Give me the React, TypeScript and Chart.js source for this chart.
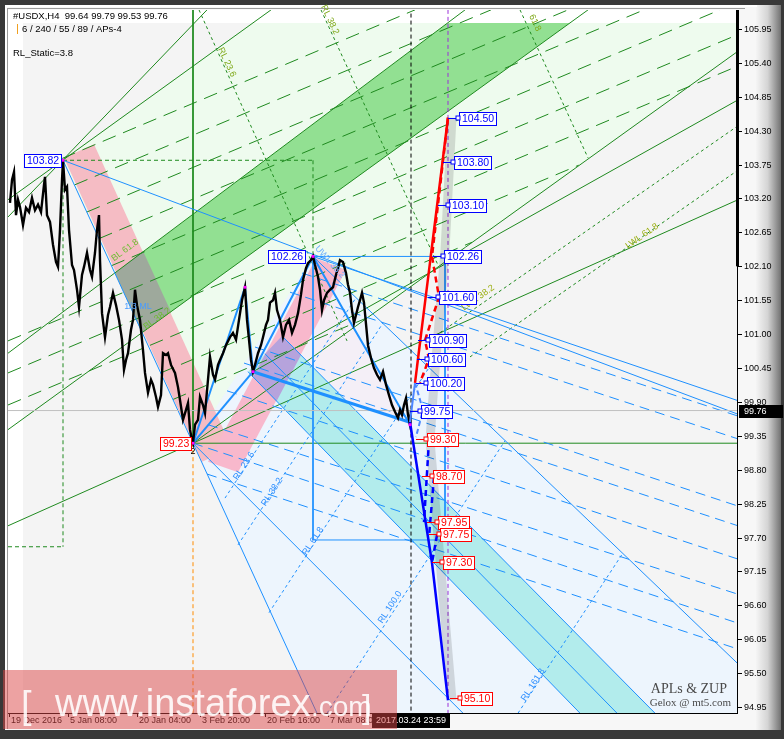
import { useEffect, useRef } from 'react';
import { Chart, registerables } from 'chart.js';

Chart.register(...registerables);

type P2 = [number, number];

// ---------------- axes ----------------
const xMin = -1;
const xMax = 729;
const yMin = 94.853;
const yMax = 106.258;
const yTicks = [94.95, 95.5, 96.05, 96.6, 97.15, 97.7, 98.25, 98.8, 99.35, 99.9, 100.45, 101.0, 101.55, 102.1, 102.65, 103.2, 103.75, 104.3, 104.85, 105.4, 105.95];
const xTickBars = [0, 59, 128, 191, 256, 319];
const xTickLabels = ['19 Dec 2016', '5 Jan 08:00', '20 Jan 04:00', '3 Feb 20:00', '20 Feb 16:00', '7 Mar 08:00'];
const lastBar = 402;
const lastTime = '2017.03.24 23:59';
const lastPrice = 99.76;
const axisBarTop = 102.1;

const header1 = '#USDX,H4  99.64 99.79 99.53 99.76';
const header2 = '6 / 240 / 55 / 89 / APs-4';
const header3 = 'RL_Static=3.8';

// ---------------- price (H4 closes, sampled) ----------------
const priceBars = [1,3,5,7,9,11,14,17,20,23,26,29,32,35,36,38,41,44,47,49,51,53,54,56,58,60,63,65,68,70,73,75,78,81,83,86,88,90,91,93,96,99,101,104,107,110,113,115,117,119,122,124,126,128,131,134,136,139,142,144,147,149,152,154,157,159,162,166,169,171,174,177,179,181,183,184,186,189,191,194,196,199,201,204,206,209,211,214,217,221,224,227,230,233,236,238,240,242,244,246,249,252,254,257,259,261,264,266,268,271,274,277,280,283,286,289,292,294,297,299,302,304,306,309,311,313,315,318,321,324,327,329,331,334,337,339,341,343,345,347,349,351,353,355,359,362,365,368,371,374,377,380,383,386,389,391,393,395,397,399,401,402];
const priceValues = [103.13,103.5,103.63,102.93,103.18,103.06,102.77,103.05,102.98,103.21,103.01,103.1,102.98,103.42,103.55,102.93,102.82,102.45,102.17,102.09,102.69,103.5,103.82,103.34,103.39,102.69,102.12,102.04,101.72,101.44,101.96,102.09,102.32,102.04,101.93,102.32,102.69,102.93,102.2,101.34,100.95,101.31,101.44,101.67,101.47,101.23,100.91,100.42,100.58,100.69,101.07,101.23,101.72,101.47,101.23,100.74,100.37,100.05,100.26,100.18,99.98,99.82,100.01,100.69,100.66,100.69,100.5,100.37,100.14,99.93,99.61,99.77,99.88,99.45,99.28,99.23,99.53,99.61,99.98,99.85,99.72,100.26,100.63,100.34,100.26,100.5,100.58,100.69,100.82,100.95,101.02,100.91,101.23,101.55,101.76,101.23,100.91,100.58,100.39,100.5,100.69,100.82,100.95,101.15,101.23,101.51,101.55,101.67,101.39,101.23,100.95,101.15,101.23,101.02,101.15,101.34,101.64,101.88,102.07,102.15,102.2,102.26,102.12,101.93,101.72,101.39,101.55,101.67,101.72,101.76,101.96,102.07,102.2,102.17,101.99,101.8,101.67,101.39,101.18,101.31,101.44,101.55,101.67,101.51,100.82,100.61,100.45,100.34,100.26,100.39,100.18,100.01,99.85,99.74,99.64,99.77,99.69,99.85,99.96,99.69,99.53,99.76];

// ---------------- swing points ----------------
const swingBars = [54, 184, 236, 244, 304, 401];
const swingPrices = [103.82, 99.23, 101.76, 100.39, 102.26, 99.53];
const pivotBars = [54, 304, 184];
const pivotPrices = [103.82, 102.26, 99.23];
const pivotGaps = [2, 8, 2];
const pivotColors = ['#0000ff', '#0000ff', '#ff0000'];

// ---------------- projection targets ----------------
const targetPrices = [104.5, 103.8, 103.1, 102.26, 101.6, 100.9, 100.6, 100.2, 99.75, 99.3, 98.7, 97.95, 97.75, 97.3, 95.1];
const targetBars = [448, 443, 438, 433, 428, 418, 417, 416, 410, 416, 422, 427, 429, 432, 450];
const targetColors = ['#0000ff','#0000ff','#0000ff','#0000ff','#0000ff','#0000ff','#0000ff','#0000ff','#0000ff','#ff0000','#ff0000','#ff0000','#ff0000','#ff0000','#ff0000'];

// ---------------- filled zones ----------------
const greenZone: P2[] = [[54,103.82],[184,99.23],[729,105.6],[729,106.05],[244,106.05]];
const blueZone: P2[] = [[184,99.23],[304,102.26],[729,95.65],[729,94.85],[306,94.85]];
const lavenderZone: P2[] = [[304,102.26],[344,101.12],[401,99.53],[277.5,100.22]];
const greenBand: P2[] = [[106,101.99],[133,101.02],[561,106.05],[439,106.05]];
const cyanBand: P2[] = [[239,100.39],[273,100.97],[646,94.85],[571,94.85]];
const pinkBand1: P2[] = [[55,103.86],[85,104.08],[223,99.15],[193,98.93]];
const bandOverlap: P2[] = [[106,101.99],[133,101.02],[162,101.36],[134,102.35]];
const pinkBand2: P2[] = [[199,98.93],[307,102.23],[337,102.04],[229,98.76]];
const purpleOverlap: P2[] = [[256.6,100.69],[273,100.97],[292,100.66],[267.5,99.91],[244,100.3]];

// ---------------- lines ----------------
const greenSolid: P2[][] = [
  [[-1,102.9],[198,106.26]],
  [[-1,103.18],[262,106.26]],
  [[184,99.23],[729,105.59]],
  [[-1,97.89],[729,103.18]],
  [[-1,100.69],[456,106.26]],
  [[-1,99.45],[579,106.26]],
  [[244,100.39],[729,104.8]],
  [[184,106.26],[184,99.23]],
  [[184,99.23],[729,99.23]],
];
const greenBox: P2[][] = [
  [[54,103.82],[54,97.55]],
  [[-1,97.55],[54,97.55]],
  [[54,103.82],[304,103.82]],
  [[304,103.82],[304,102.26]],
];
const greenDash: P2[][] = [
  [[53.2,103.85],[406,106.26]],
  [[65.5,103.42],[482,106.26]],
  [[77.8,102.98],[559,106.26]],
  [[90.1,102.55],[635,106.26]],
  [[102.5,102.11],[711,106.26]],
  [[-1,100.89],[729,105.86]],
  [[-1,100.37],[729,105.35]],
  [[-1,99.85],[569.7,103.74]],
  [[151.7,100.37],[463,102.49]],
  [[164,99.94],[356,101.25]],
];
const greenDot: P2[][] = [
  [[190,106.26],[338,100.89]],
  [[312,106.26],[429,102.12]],
  [[511,106.26],[579,103.86]],
  [[421,100.91],[729,104.38]],
  [[461,100.63],[729,103.66]],
];
const blueSolid: P2[][] = [
  [[54,103.82],[729,99.7]],
  [[54,103.82],[308,94.85]],
  [[304,102.26],[729,95.65]],
  [[304,102.26],[729,99.92]],
  [[304,102.26],[433,102.26]],
  [[304,102.26],[304,97.66]],
  [[304,97.66],[436,97.66]],
  [[436,102.26],[436,97.66]],
  [[273,100.97],[646,94.85]],
  [[239,100.39],[571,94.85]],
  [[256,100.68],[608,94.85]],
  [[184,99.23],[454,94.85]],
];
const blueDash: P2[][] = [
  [[293,101.99],[729,99.67]],
  [[281,101.68],[729,99.3]],
  [[246,100.79],[729,98.21]],
  [[235,100.53],[729,97.89]],
  [[218,100.08],[729,97.35]],
  [[199,99.53],[729,96.78]],
  [[184,99.23],[729,96.31]],
  [[198,98.73],[729,95.89]],
];
const blueDot: P2[][] = [
  [[216,98.34],[347,101.59]],
  [[229,97.58],[374,101.18]],
  [[260,96.48],[421,100.48]],
  [[318,94.85],[496,99.27]],
  [[509,94.85],[614,97.45]],
];
const zupPath: P2[] = [[184,99.23],[236,101.76],[244,100.39],[304,102.26],[344,101.12],[401,99.53]];
const zupExtra: P2[] = [[184,99.23],[244,100.39]];
const medianThick: P2[] = [[244,100.39],[401,99.57]];
const redSolid: P2[] = [[406,100.21],[439,104.51]];
const redDash: P2[] = [[439,104.51],[423,102.26],[430,101.6],[416,100.9],[420,100.6],[411,100.21]];
const blueProjSolid: P2[] = [[401,99.57],[423,97.29],[439,95.06]];
const blueProjDash: P2[][] = [
  [[420,99.28],[415,97.95]],
  [[425,98.68],[420,97.71]],
  [[428,97.74],[423,97.29]],
];
const lightProjSolid: P2[] = [[401,99.57],[406,100.21]];
const lightProjDash: P2[] = [[406,100.21],[414,99.77],[407,99.33]];
const projShadow: P2[] = [[443,104.51],[436,102.36],[425,100.21],[421,99.28],[431,97.34],[443,95.06]];

// ---------------- annotations ----------------
const annoTexts = ['RL 23.6','RL 38.2','61.8','BL 61.8','BL 38.2','LWL 38.2','LWL 61.8','1/3 ML','UWL 38.2','RL 23.6','RL 38.2','RL 61.8','RL 100.0','RL 161.8','2'];
const annoBars = [218,321,526,116,148,469,633,129,321,235,263,304,381,524,184];
const annoPrices = [105.41,106.1,106.05,102.36,101.25,101.59,102.59,101.44,102.17,98.86,98.44,97.64,96.57,95.31,99.09];
const annoAngles = [65,65,65,-36,-36,-35,-35,0,48,-57,-57,-57,-57,-57,0];
const annoColors = ['#7fa818','#7fa818','#7fa818','#6cbc30','#6cbc30','#9aae10','#9aae10','#4a9cff','#6aaeff','#2f8fff','#2f8fff','#2f8fff','#2f8fff','#2f8fff','#000000'];

const FONT = '"Liberation Sans", Arial, sans-serif';

function boxLabel(ctx: CanvasRenderingContext2D, text: string, x: number, y: number, color: string, alignRight: boolean) {
  ctx.font = `10.5px ${FONT}`;
  const w = Math.round(ctx.measureText(text).width + 5);
  const h = 13;
  const bx = Math.round(alignRight ? x - w : x);
  const by = Math.round(y - h / 2);
  ctx.fillStyle = '#ffffff';
  ctx.fillRect(bx, by, w, h);
  ctx.strokeStyle = color;
  ctx.lineWidth = 1;
  ctx.strokeRect(bx + 0.5, by + 0.5, w, h);
  ctx.fillStyle = color;
  ctx.textAlign = 'left';
  ctx.textBaseline = 'middle';
  ctx.fillText(text, bx + 3, by + h / 2 + 1);
}

const bgPlugin = {
  id: 'bgFrame',
  beforeDraw(chart: any) {
    const { ctx, chartArea: a, width, height } = chart;
    ctx.save();
    ctx.fillStyle = '#f7f7f7';
    ctx.fillRect(0, 0, width, height);
    const g = ctx.createLinearGradient(756, 0, 782, 0);
    g.addColorStop(0, '#f5f5f5');
    g.addColorStop(0.45, '#d4d4d4');
    g.addColorStop(1, '#6a6a6a');
    ctx.fillStyle = g;
    ctx.fillRect(756, 0, 28, height);
    ctx.fillStyle = '#383838';
    ctx.fillRect(0, 0, width, 5);
    ctx.fillRect(0, 0, 5, height);
    ctx.fillRect(0, height - 9, width, 9);
    ctx.fillRect(width - 3, 0, 3, height);
    ctx.fillStyle = '#ffffff';
    ctx.fillRect(5, 5, 752, 2);
    ctx.fillRect(5, 5, 2, height - 14);
    ctx.fillStyle = '#9a9a9a';
    ctx.fillRect(7, 8, 738, 1);
    ctx.fillRect(7, 8, 1, height - 18);
    ctx.fillStyle = '#ffffff';
    ctx.fillRect(a.left, a.top, a.right - a.left, a.bottom - a.top);
    ctx.fillStyle = '#f4f4f4';
    ctx.fillRect(a.left + 15, a.top + 13, a.right - a.left - 15, a.bottom - a.top - 13);
    ctx.restore();
  },
};

const polyPlugin = {
  id: 'polyFill',
  beforeDatasetDraw(chart: any, args: any) {
    const ds = chart.data.datasets[args.index];
    if (!ds.polyFill) return;
    const { ctx, chartArea: a } = chart;
    const pts = args.meta.data;
    ctx.save();
    ctx.beginPath();
    ctx.rect(a.left + 15, a.top + 13, a.right - a.left - 15, a.bottom - a.top - 13);
    ctx.clip();
    ctx.beginPath();
    pts.forEach((p: any, i: number) => (i ? ctx.lineTo(p.x, p.y) : ctx.moveTo(p.x, p.y)));
    ctx.closePath();
    ctx.fillStyle = ds.polyFill;
    ctx.fill();
    ctx.restore();
  },
};

const textPlugin = {
  id: 'texts',
  afterDraw(chart: any) {
    const { ctx, chartArea: a } = chart;
    const xs = chart.scales.x;
    const ys = chart.scales.y;
    const X = (b: number) => xs.getPixelForValue(b);
    const Y = (p: number) => ys.getPixelForValue(p);
    ctx.save();

    annoTexts.forEach((t, i) => {
      ctx.save();
      ctx.translate(X(annoBars[i]), Y(annoPrices[i]));
      ctx.rotate((annoAngles[i] * Math.PI) / 180);
      ctx.font = `9px ${FONT}`;
      ctx.fillStyle = annoColors[i];
      ctx.textAlign = 'center';
      ctx.textBaseline = 'middle';
      ctx.fillText(t, 0, 0);
      ctx.restore();
    });

    pivotBars.forEach((b, i) => {
      boxLabel(ctx, pivotPrices[i].toFixed(2), X(b) - pivotGaps[i], Y(pivotPrices[i]), pivotColors[i], true);
    });

    targetBars.forEach((b, i) => {
      const y = Math.round(Y(targetPrices[i])) + 0.5;
      const xm = Math.round(X(b));
      ctx.strokeStyle = targetColors[i];
      ctx.lineWidth = 1;
      ctx.beginPath();
      ctx.moveTo(X(b - 9), y);
      ctx.lineTo(xm, y);
      ctx.stroke();
      boxLabel(ctx, targetPrices[i].toFixed(2), xm + 2, y, targetColors[i], false);
      ctx.fillStyle = '#ffffff';
      ctx.fillRect(xm - 1, y - 2.5, 4, 4);
      ctx.strokeStyle = targetColors[i];
      ctx.strokeRect(xm - 1, y - 2.5, 4, 4);
    });

    ctx.fillStyle = '#000000';
    ctx.font = `9.5px ${FONT}`;
    ctx.textAlign = 'left';
    ctx.textBaseline = 'middle';
    ctx.fillText(header1, 13, 16);
    ctx.fillText(header2, 22, 29);
    ctx.fillText(header3, 13, 53);
    ctx.fillStyle = '#f0a020';
    ctx.fillRect(17, 24, 1, 10);

    ctx.fillStyle = '#4a4a4a';
    ctx.textAlign = 'right';
    ctx.textBaseline = 'alphabetic';
    ctx.font = `14px "Liberation Serif", "DejaVu Serif", serif`;
    ctx.fillText('APLs & ZUP', 727, 693);
    ctx.font = `11px "Liberation Serif", "DejaVu Serif", serif`;
    ctx.fillText('Gelox @ mt5.com', 731, 706);

    ctx.fillStyle = '#000000';
    ctx.fillRect(a.right - 1, a.top, 1, a.bottom - a.top + 1);
    ctx.fillRect(a.right - 2, a.top, 3, Y(axisBarTop) - a.top);
    ctx.font = `9px ${FONT}`;
    ctx.textAlign = 'left';
    ctx.textBaseline = 'middle';
    yTicks.forEach((v) => {
      const y = Math.round(Y(v));
      ctx.fillRect(a.right, y, 4, 1);
      ctx.fillText(v.toFixed(2), a.right + 6, y + 0.5);
    });
    ctx.fillRect(a.left, a.bottom, a.right - a.left, 1);
    xTickBars.forEach((b, i) => {
      const x = Math.round(X(b));
      ctx.fillRect(x, a.bottom, 1, 4);
      ctx.fillText(xTickLabels[i], x + 2, a.bottom + 8);
    });
    const py = Y(lastPrice);
    ctx.fillRect(a.right + 1, Math.round(py) - 6, 44, 13);
    ctx.fillStyle = '#ffffff';
    ctx.fillText(lastPrice.toFixed(2), a.right + 6, Math.round(py) + 1);
    ctx.fillStyle = '#000000';
    const tw = ctx.measureText(lastTime).width + 8;
    const tx = X(lastBar);
    ctx.fillRect(Math.round(tx - tw / 2), a.bottom + 1, Math.round(tw), 14);
    ctx.fillStyle = '#ffffff';
    ctx.textAlign = 'center';
    ctx.fillText(lastTime, tx, a.bottom + 8);

    ctx.fillStyle = 'rgba(220,70,70,0.5)';
    ctx.fillRect(3, 670, 394, 59);
    ctx.fillStyle = 'rgba(255,255,255,0.88)';
    ctx.textAlign = 'left';
    ctx.textBaseline = 'alphabetic';
    ctx.font = `38px ${FONT}`;
    ctx.fillText('[', 21, 718);
    ctx.fillText('www.instaforex', 55, 716);
    ctx.font = `28px ${FONT}`;
    ctx.fillText('.com', 311, 716);
    ctx.font = `34px ${FONT}`;
    ctx.fillText(']', 362, 718);
    ctx.restore();
  },
};

export default function App() {
  const ref = useRef<HTMLCanvasElement | null>(null);
  useEffect(() => {
    const canvas = ref.current;
    if (!canvas) return;
    const layers: any[] = [];
    const xy = (pts: P2[]) => pts.map(([x, y]) => ({ x, y }));
    const poly = (pts: P2[], color: string) =>
      layers.push({ data: xy(pts), showLine: false, pointRadius: 0, polyFill: color, borderColor: 'rgba(0,0,0,0)', fill: false });
    const line = (pts: P2[], color: string, width: number, dash: number[] = []) =>
      layers.push({ data: xy(pts), borderColor: color, borderWidth: width, borderDash: dash, pointRadius: 0, fill: false, tension: 0, borderCapStyle: 'butt' });

    poly(greenZone, '#eefbee');
    poly(blueZone, '#edf5fd');
    poly(lavenderZone, '#f4eff7');
    poly(greenBand, '#92e092');
    poly(cyanBand, '#b2ecec');
    poly(pinkBand1, '#f5bcc4');
    poly(bandOverlap, '#9ea99c');
    poly(pinkBand2, '#f8b8cc');
    poly(purpleOverlap, '#b6a3dc');

    greenDash.forEach((s) => line(s, '#1f8a1f', 1, [14, 8]));
    greenBox.forEach((s) => line(s, '#1f8a1f', 1, [4, 3]));
    greenDot.forEach((s) => line(s, '#1f8a1f', 1, [3, 3]));
    greenSolid.forEach((s) => line(s, '#1f8a1f', 1));
    blueDash.forEach((s) => line(s, '#1e90ff', 1, [10, 6]));
    blueDot.forEach((s) => line(s, '#1e90ff', 1, [3, 3]));
    blueSolid.forEach((s) => line(s, '#1e90ff', 1));

    line([[184, 99.23], [184, 94.85]], '#ff8c00', 1, [4, 3]);
    line([[-1, lastPrice], [729, lastPrice]], '#c0c0c0', 1);
    line([[lastBar, 106.2], [lastBar, 94.85]], '#000000', 1, [4, 3]);
    line([[439, 106.26], [439, 94.85]], '#9b30d9', 1, [4, 3]);
    line(projShadow, 'rgba(0,0,0,0.13)', 9);

    line(zupExtra, '#1e90ff', 2);
    line(zupPath, '#1e90ff', 2);
    line(medianThick, '#1e90ff', 3);

    layers.push({
      data: priceBars.map((b, i) => ({ x: b, y: priceValues[i] })),
      borderColor: '#000000', borderWidth: 2.4, pointRadius: 0, fill: false, tension: 0, borderJoinStyle: 'miter',
    });

    line(lightProjSolid, '#4d86ff', 2);
    line(lightProjDash, '#4d86ff', 2, [5, 3]);
    line(redSolid, '#ff0000', 2.5);
    line(redDash, '#ff0000', 2.5, [6, 4]);
    line(blueProjSolid, '#0000ff', 2.5);
    blueProjDash.forEach((s) => line(s, '#0000ff', 2.5, [6, 4]));

    layers.push({
      data: swingBars.map((b, i) => ({ x: b, y: swingPrices[i] })),
      showLine: false, pointRadius: 2, pointStyle: 'rect', pointBackgroundColor: '#ff00ff', pointBorderColor: '#ff00ff', pointBorderWidth: 0,
    });

    layers.forEach((d, i) => {
      d.type = 'line';
      d.order = layers.length - i;
    });

    const chart = new Chart(canvas, {
      type: 'line',
      data: { datasets: layers },
      options: {
        responsive: false,
        maintainAspectRatio: false,
        animation: false,
        devicePixelRatio: 1,
        events: [],
        layout: { padding: { left: 8, top: 10, right: 46, bottom: 26 } },
        scales: {
          x: { type: 'linear', min: xMin, max: xMax, display: false },
          y: { type: 'linear', min: yMin, max: yMax, display: false },
        },
        plugins: { legend: { display: false }, tooltip: { enabled: false } },
      },
      plugins: [bgPlugin, polyPlugin, textPlugin],
    } as any);
    return () => chart.destroy();
  }, []);
  return (
    <div style={{ position: 'fixed', left: 0, top: 0, width: 784, height: 739 }}>
      <canvas ref={ref} width={784} height={739} style={{ display: 'block', width: 784, height: 739 }} />
    </div>
  );
}
